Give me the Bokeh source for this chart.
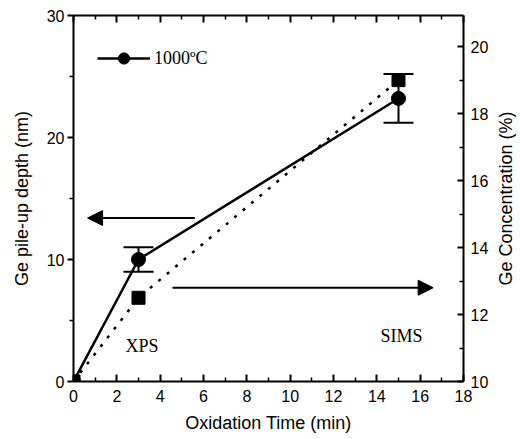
import math
from bokeh.plotting import figure
from bokeh.layouts import row
from bokeh.models import (Range1d, LinearAxis, Whisker, ColumnDataSource, Arrow,
                          NormalHead, Label, Legend, LegendItem, FixedTicker, TeeHead)
from bokeh.embed import file_html
from bokeh.resources import INLINE

# Oxidation at 1000 °C: Ge pile-up depth (XPS, left axis) and Ge concentration (SIMS, right axis)
time_min = [0, 3, 15]
pileup_nm = [0, 10, 23.2]
pileup_err = [0, 1, 2]
ge_conc_pct = [10, 12.5, 19.0]

x_ticks = [0, 2, 4, 6, 8, 10, 12, 14, 16, 18]
x_minor = [1, 3, 5, 7, 9, 11, 13, 15, 17]
left_ticks = [0, 10, 20, 30]
left_minor = [5, 15, 25]
right_ticks = [10, 12, 14, 16, 18, 20]
right_minor = [11, 13, 15, 17, 19]

SANS = "Liberation Sans"
SERIF = "Liberation Serif"

p = figure(width=492, height=439, x_range=Range1d(0, 18), y_range=Range1d(0, 30),
           output_backend="svg", toolbar_location=None,
           min_border_left=73, min_border_right=29, min_border_top=15, min_border_bottom=58,
           x_axis_label="Oxidation Time (min)", y_axis_label="Ge pile-up depth (nm)")
p.extra_y_ranges = {"conc": Range1d(10, 20.93)}
p.grid.visible = False
p.outline_line_color = None
p.background_fill_color = "white"
p.border_fill_color = "white"

def style_axis(ax, tick_in, tick_out):
    ax.axis_line_width = 2
    ax.axis_line_color = "black"
    ax.major_tick_line_width = 2
    ax.minor_tick_line_width = 1.5
    ax.major_tick_in = tick_in
    ax.major_tick_out = tick_out
    ax.minor_tick_in = 4 if tick_in else 0
    ax.minor_tick_out = 4 if tick_out else 0
    ax.major_label_text_font = SANS
    ax.major_label_text_font_size = "16px"
    ax.major_label_text_color = "black"
    ax.axis_label_text_font = SANS
    ax.axis_label_text_font_size = "18px"
    ax.axis_label_text_font_style = "normal"
    ax.axis_label_text_color = "black"

xa = p.xaxis[0]
xa.ticker = FixedTicker(ticks=x_ticks, minor_ticks=x_minor)
style_axis(xa, 7, 0)
xa.major_label_standoff = 8
xa.axis_label_standoff = 8

ya = p.yaxis[0]
ya.ticker = FixedTicker(ticks=left_ticks, minor_ticks=left_minor)
style_axis(ya, 0, 6)
ya.major_label_standoff = 3
ya.axis_label_standoff = 12

ra = LinearAxis(y_range_name="conc",
                ticker=FixedTicker(ticks=right_ticks, minor_ticks=right_minor))
style_axis(ra, 6, 0)
ra.major_label_standoff = 7
p.add_layout(ra, "right")

ta = LinearAxis(ticker=FixedTicker(ticks=x_ticks, minor_ticks=x_minor))
style_axis(ta, 7, 0)
ta.major_label_text_color = None
p.add_layout(ta, "above")

# XPS pile-up depth with error bars
err_src = ColumnDataSource(data=dict(
    t=[t for t, e in zip(time_min, pileup_err) if e > 0],
    lo=[v - e for v, e in zip(pileup_nm, pileup_err) if e > 0],
    hi=[v + e for v, e in zip(pileup_nm, pileup_err) if e > 0],
))
p.add_layout(Whisker(source=err_src, base="t", lower="lo", upper="hi", line_width=2,
                     line_color="black",
                     upper_head=TeeHead(size=30, line_width=2, line_color="black"),
                     lower_head=TeeHead(size=30, line_width=2, line_color="black")))

xps_line = p.line(time_min, pileup_nm, line_width=2.5, line_color="black")
xps_pts = p.scatter(time_min, pileup_nm, marker="circle", size=14,
                    fill_color="black", line_color="black")

# SIMS Ge concentration on the right axis
p.line(time_min, ge_conc_pct, y_range_name="conc", line_width=2.5,
       line_color="black", line_dash="3 8")
p.scatter(time_min, ge_conc_pct, y_range_name="conc", marker="square", size=13,
          fill_color="black", line_color="black")

legend = Legend(items=[LegendItem(label="1000\u00baC", renderers=[xps_line, xps_pts])],
                location=(24, 309), padding=0, margin=0, spacing=0,
                glyph_width=53, glyph_height=28, label_standoff=4,
                label_text_font=SERIF, label_text_font_size="18px",
                label_text_color="black",
                border_line_color=None, background_fill_alpha=0)
p.add_layout(legend)

# Arrows pointing each series to its axis
p.add_layout(Arrow(end=NormalHead(size=15, fill_color="black", line_color="black"),
                   x_start=5.6, y_start=13.4, x_end=0.65, y_end=13.4,
                   line_width=2, line_color="black"))
p.add_layout(Arrow(end=NormalHead(size=15, fill_color="black", line_color="black"),
                   x_start=4.57, y_start=12.8, x_end=16.6, y_end=12.8,
                   y_range_name="conc", line_width=2, line_color="black"))

p.add_layout(Label(x=2.4, y=2.95, text="XPS", text_font=SERIF, text_font_size="18px",
                   text_baseline="middle", text_color="black"))
p.add_layout(Label(x=14.17, y=3.77, text="SIMS", text_font=SERIF, text_font_size="18px",
                   text_baseline="middle", text_color="black"))

# Narrow strip carrying the right-hand title so it reads bottom to top
title_strip = figure(width=28, height=439, x_range=Range1d(0, 1), y_range=Range1d(10, 20.93),
                     output_backend="svg", toolbar_location=None, x_axis_location=None,
                     min_border_left=26, min_border_right=0, min_border_top=15,
                     min_border_bottom=58, y_axis_label="Ge Concentration (%)")
title_strip.grid.visible = False
title_strip.outline_line_color = None
title_strip.border_fill_color = "white"
sa = title_strip.yaxis[0]
sa.ticker = FixedTicker(ticks=[])
sa.axis_line_color = None
sa.major_tick_line_color = None
sa.minor_tick_line_color = None
sa.major_label_text_color = None
sa.axis_label_text_font = SANS
sa.axis_label_text_font_size = "18px"
sa.axis_label_text_font_style = "normal"
sa.axis_label_text_color = "black"
sa.axis_label_standoff = 3
title_strip.line([0, 1], [10, 10], line_alpha=0)

open("out.html", "w").write(file_html(row(p, title_strip, spacing=0), INLINE))
